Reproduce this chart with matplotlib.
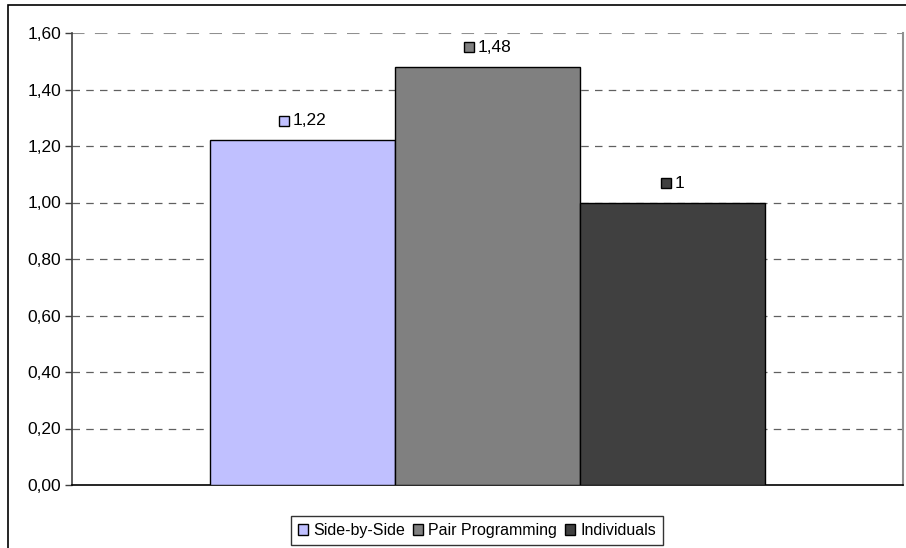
import matplotlib
matplotlib.use("Agg")
import matplotlib.pyplot as plt
from matplotlib.offsetbox import HPacker, TextArea, DrawingArea, AnnotationBbox
from matplotlib.patches import Rectangle

series = ["Side-by-Side", "Pair Programming", "Individuals"]
values = [1.22, 1.48, 1.0]
labels = ["1,22", "1,48", "1"]
colors = ["#C0C0FF", "#808080", "#404040"]
yticks = [0.0, 0.2, 0.4, 0.6, 0.8, 1.0, 1.2, 1.4, 1.6]
ytick_labels = ["0,00", "0,20", "0,40", "0,60", "0,80", "1,00", "1,20", "1,40", "1,60"]

plt.rcParams['font.family'] = ['Liberation Sans', 'DejaVu Sans']

W, H = 906, 548
fig = plt.figure(figsize=(W / 100, H / 100), dpi=100)
ax = fig.add_axes([72 / W, 1 - 485 / H, (903 - 72) / W, (485 - 33) / H])

bw = 185 / 831
offsets = [-bw, 0, bw]
for s, v, c, o in zip(series, values, colors, offsets):
    ax.bar(o, v, width=bw, color=c, edgecolor="black", linewidth=1, label=s, zorder=3)

ax.set_xlim(-0.5, 0.5)
ax.set_ylim(0, 1.6)
ax.set_xticks([])
ax.set_yticks(yticks)
ax.set_yticklabels(ytick_labels, fontsize=12.5)
ax.tick_params(axis='y', length=5, width=1, color="#404040", pad=3)
for y in yticks[1:]:
    ax.axhline(y, color="#606060" if y < 1.59 else "#909090", linestyle=(0, (6, 5)),
               linewidth=0.9 if y < 1.59 else 1.5, zorder=1)
ax.spines['top'].set_visible(False)
ax.spines['left'].set_color("#404040")
ax.spines['left'].set_linewidth(1.2)
ax.spines['bottom'].set_color("black")
ax.spines['bottom'].set_linewidth(1.2)
ax.spines['right'].set_color("#909090")
ax.spines['right'].set_linewidth(1.5)

# data labels with a colour square
for v, c, o, lab in zip(values, colors, offsets, labels):
    da = DrawingArea(7.2, 7.2, 0, 0)
    da.add_artist(Rectangle((0, 0), 7.2, 7.2, facecolor=c, edgecolor="black", linewidth=1))
    ta = TextArea(lab, textprops=dict(fontsize=12.5))
    pack = HPacker(children=[da, ta], align="center", pad=0, sep=3)
    ab = AnnotationBbox(pack, (o, v), xybox=(0, 14), xycoords='data',
                        boxcoords='offset points', box_alignment=(0.5, 0.5),
                        frameon=False, pad=0, annotation_clip=False)
    ax.add_artist(ab)

leg = fig.legend(loc='center', bbox_to_anchor=(477 / W, 1 - 530.5 / H), ncol=3,
                 fontsize=11.5, frameon=True, fancybox=False, edgecolor="black",
                 handlelength=0.65, handleheight=0.65, handletextpad=0.3,
                 columnspacing=0.5, borderpad=0.45, borderaxespad=0)
leg.get_frame().set_linewidth(1)

# outer chart border
fig.add_artist(Rectangle((8 / W, -0.1), 1.2, 1.1 - 5 / H, transform=fig.transFigure,
                         fill=False, edgecolor="black", linewidth=1.2))

fig.savefig("out.png", dpi=100)
